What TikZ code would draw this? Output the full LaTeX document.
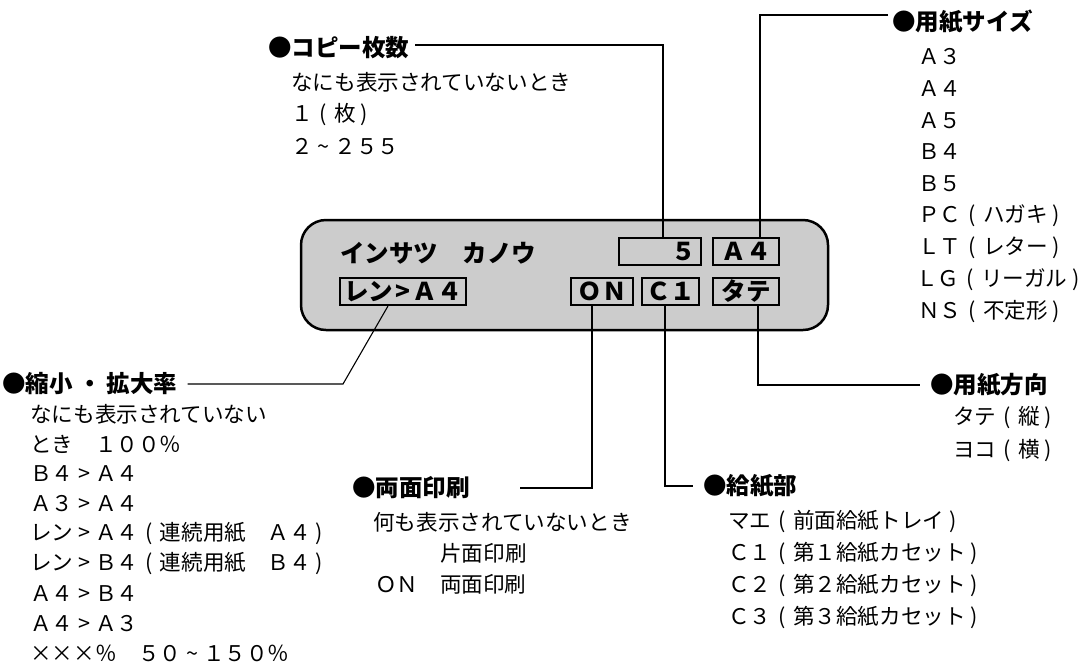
\documentclass[tikz,border=0pt]{standalone}
\usepackage{fontspec}
\newfontfamily\jp{Noto Sans CJK JP}
\definecolor{lcdgray}{RGB}{204,204,204}
\newcommand\lp{\makebox[1em]{(}}
\newcommand\rp{\makebox[0.8em]{)}}
\newcommand\tl{\makebox[1em]{\textasciitilde}}
\newcommand\gt{\makebox[1em]{>}}
\begin{document}
\begin{tikzpicture}[x=1pt,y=-1pt,
  txt/.style={font=\jp\fontsize{21.6}{25}\selectfont, anchor=west, inner sep=0pt},
  head/.style={font=\jp\bfseries\fontsize{23.5}{27}\selectfont, anchor=west, inner sep=0pt},
  lcd/.style={font=\jp\bfseries\fontsize{24.5}{28}\selectfont, inner sep=0pt},
  seg/.style={draw=black, line width=2pt, minimum height=27pt, inner sep=0pt},
  lead/.style={draw=black, line width=1.1pt}]
\useasboundingbox (0,0) rectangle (1083,665);

% display panel
\node[draw=black, line width=2.5pt, fill=lcdgray, rounded corners=25pt,
      minimum width=527pt, minimum height=110pt, inner sep=0pt] (disp) at (564.5,275) {};
\node[lcd, anchor=west] (title) at (340,253) {インサツ　カノウ};
\node[seg, minimum width=82pt] (cnt) at (660,251.5) {};
\node[lcd, anchor=east] (cntv) at (696,251.5) {５};
\node[seg, minimum width=66pt] (a4seg) at (746,251.5) {};
\node[lcd] (a4v) at (746,251.5) {Ａ４};
\node[seg, minimum width=126pt] (renseg) at (403,291.5) {};
\node[lcd] (renv) at (403,291.5) {レン\makebox[0.8em]{>}Ａ４};
\node[seg, minimum width=62pt] (onseg) at (602,291.5) {};
\node[lcd] (onv) at (602,291.5) {ＯＮ};
\node[seg, minimum width=57pt] (c1seg) at (670.5,291.5) {};
\node[lcd] (c1v) at (670.5,291.5) {Ｃ１};
\node[seg, minimum width=66pt] (tateseg) at (746,291.5) {};
\node[lcd] (tatev) at (746,291.5) {タテ};

% copy count
\node[head] (copyhead) at (268,48) {●コピー枚数};
\node[txt] (c1) at (291,82) {なにも表示されていないとき};
\node[txt] (c2) at (291,115) {１\lp 枚\rp};
\node[txt] (c3) at (291,147) {２\tl ２５５};

% paper size
\node[head] (sizehead) at (892,22) {●用紙サイズ};
\node[txt] (s1) at (918,57) {Ａ３};
\node[txt] (s2) at (918,89) {Ａ４};
\node[txt] (s3) at (918,121) {Ａ５};
\node[txt] (s4) at (918,152) {Ｂ４};
\node[txt] (s5) at (918,184) {Ｂ５};
\node[txt] (s6) at (918,216) {ＰＣ\lp ハガキ\rp};
\node[txt] (s7) at (918,248) {ＬＴ\lp レター\rp};
\node[txt] (s8) at (916,280) {ＬＧ\lp リーガル\rp};
\node[txt] (s9) at (918,312) {ＮＳ\lp 不定形\rp};

% reduction / enlargement
\node[head] (redhead) at (2,384) {●縮小 ・ 拡大率};
\node[txt] (r1) at (30,414) {なにも表示されていない};
\node[txt] (r2) at (30,444) {とき　１００％};
\node[txt] (r3) at (30,474) {Ｂ４\gt Ａ４};
\node[txt] (r4) at (30,504) {Ａ３\gt Ａ４};
\node[txt] (r5) at (30,534) {レン\gt Ａ４\lp 連続用紙　Ａ４\rp};
\node[txt] (r6) at (30,564) {レン\gt Ｂ４\lp 連続用紙　Ｂ４\rp};
\node[txt] (r7) at (30,594) {Ａ４\gt Ｂ４};
\node[txt] (r8) at (30,624) {Ａ４\gt Ａ３};
\node[txt] (r9) at (30,653) {×××％　５０\tl １５０％};

% duplex
\node[head] (duphead) at (352,488) {●両面印刷};
\node[txt] (d1) at (373,522) {何も表示されていないとき};
\node[txt] (d2) at (440,553) {片面印刷};
\node[txt] (d3) at (375,584) {ＯＮ　両面印刷};

% feed
\node[head] (feedhead) at (703,486) {●給紙部};
\node[txt] (f1) at (728,521) {マエ\lp 前面給紙トレイ\rp};
\node[txt] (f2) at (728,553) {Ｃ１\lp 第１給紙カセット\rp};
\node[txt] (f3) at (728,585) {Ｃ２\lp 第２給紙カセット\rp};
\node[txt] (f4) at (728,617) {Ｃ３\lp 第３給紙カセット\rp};

% orientation
\node[head] (orihead) at (930,385) {●用紙方向};
\node[txt] (o1) at (953,418) {タテ\lp 縦\rp};
\node[txt] (o2) at (953,451) {ヨコ\lp 横\rp};

% leaders
\coordinate (rbend) at (343,384);
\draw[lead] ([xshift=6pt,yshift=3pt]copyhead.east) -| ([xshift=3pt]cnt.north);
\draw[lead] ([xshift=-4pt,yshift=7pt]sizehead.west) -| ([xshift=14pt]a4seg.north);
\draw[lead] ([xshift=10pt]redhead.east) -- (rbend) -- ([xshift=-15pt]renseg.south);
\draw[lead] ([xshift=-10pt]onseg.south) |- ([xshift=50pt]duphead.east);
\draw[lead] ([xshift=-5.5pt]c1seg.south) |- ([xshift=-10pt]feedhead.west);
\draw[lead] ([xshift=12pt]tateseg.south) |- ([xshift=-10pt]orihead.west);
\end{tikzpicture}
\end{document}
